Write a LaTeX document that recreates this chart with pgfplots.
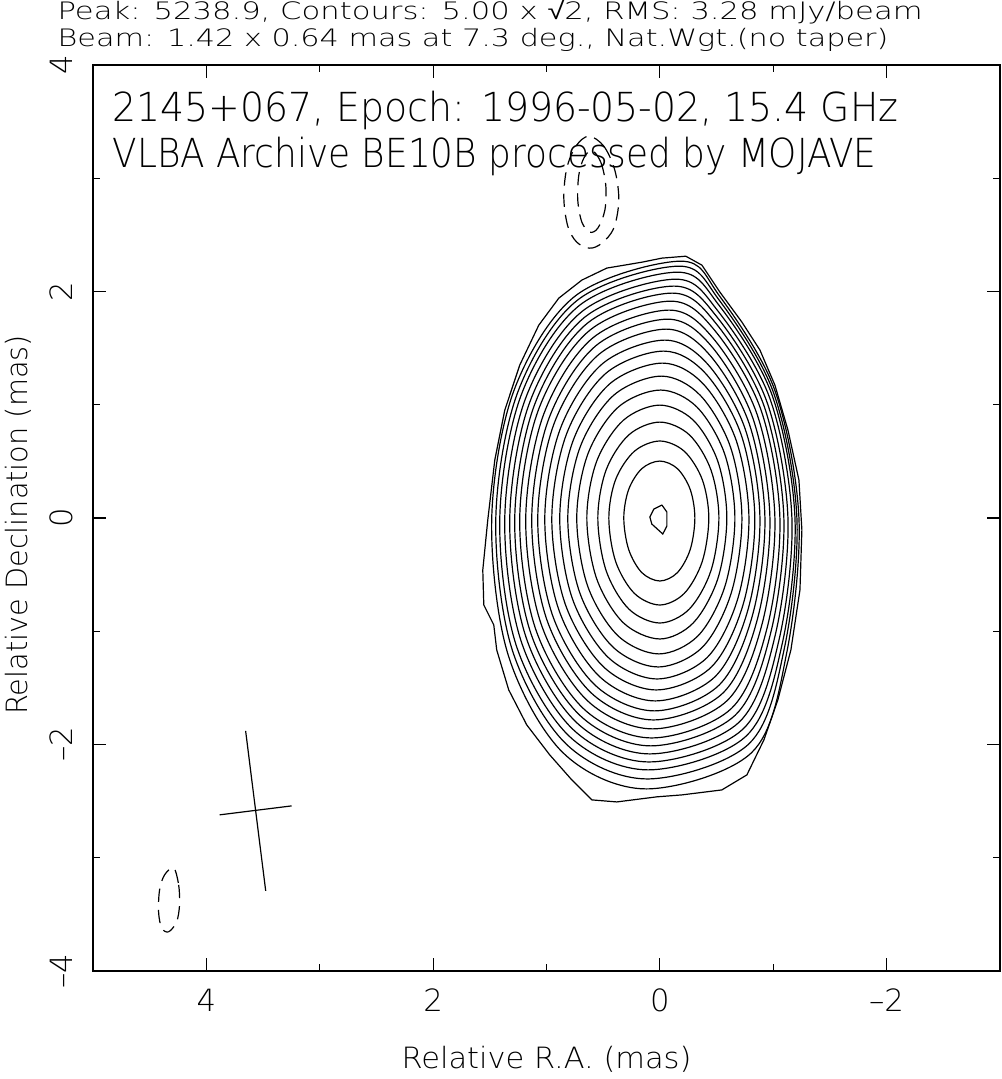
\documentclass[border=0pt]{standalone}
\usepackage{pgfplots}
\pgfplotsset{compat=1.18}
\usepackage{fontspec}
\IfFontExistsTF{DejaVu Sans ExtraLight}{\setmainfont{DejaVu Sans ExtraLight}}{\setmainfont{Liberation Sans}}
\newfontfamily\lib{Liberation Sans}
\newsavebox\tb
\newcommand\fitw[2]{\sbox\tb{#2}\pgfmathsetmacro\fac{#1/\wd\tb}\scalebox{\fac}[1]{\usebox\tb}}
\pgfplotsset{
  ring/.style={smooth cycle, tension=0.55, line width=0.45pt, black},
  neg/.style={smooth cycle, tension=0.55, line width=0.45pt, black, dash pattern=on 5pt off 3pt},
}
\begin{document}
\begin{tikzpicture}
\begin{axis}[name=ax, scale only axis, width=340.1pt, height=339.75pt,
  x dir=reverse, xmin=-3, xmax=5, ymin=-4, ymax=4,
  xtick={-2,0,2,4}, xticklabels={–2,0,2,4},
  ytick={-4,-2,0,2,4}, yticklabels={–4,–2,0,2,4},
  minor xtick={-1,1,3}, minor ytick={-3,-1,1,3},
  tick align=inside, tick pos=both,
  major tick length=5pt, minor tick length=2.6pt,
  tick style={black, line width=0.45pt},
  axis line style={line width=0.5pt},
  ticklabel style={font=\fontsize{11.5}{12}\selectfont},
  xticklabel shift=3.3pt,
  yticklabel style={rotate=90, anchor=south},
  yticklabel shift=4.1pt,
  clip=false,
]
% innermost contour
\addplot[sharp plot, line width=0.45pt, black] coordinates {(-0.018,0.115)(-0.062,0.053)(-0.062,-0.071)(-0.026,-0.141)(0.071,-0.053)(0.088,0.009)(0.053,0.079)(-0.018,0.115)};
% rings 1..19
\addplot[ring] coordinates {(.318,0)(.275,.252)(.159,.436)(0,.503)(-.155,.436)(-.268,.252)(-.309,0)(-.268,-.278)(-.155,-.482)(0,-.556)(.159,-.482)(.275,-.278)};
\addplot[ring] coordinates {(.450,0)(.390,.340)(.225,.589)(0,.680)(-.216,.589)(-.374,.340)(-.432,0)(-.374,-.384)(-.216,-.665)(0,-.768)(.225,-.665)(.390,-.384)};
\addplot[ring] coordinates {(.547,0)(.474,.424)(.274,.734)(0,.847)(-.261,.734)(-.451,.424)(-.521,0)(-.451,-.464)(-.261,-.803)(0,-.927)(.274,-.803)(.474,-.464)};
\addplot[ring] coordinates {(.644,0)(.558,.499)(.322,.863)(0,.997)(-.296,.863)(-.512,.499)(-.591,0)(-.512,-.534)(-.296,-.925)(0,-1.068)(.322,-.925)(.558,-.534)};
\addplot[ring] coordinates {(.733,0)(.635,.565)(.367,.979)(-.007,1.130)(-.328,.979)(-.572,.565)(-.662,0)(-.575,-.600)(-.338,-1.039)(.008,-1.200)(.370,-1.039)(.637,-.600)};
\addplot[ring] coordinates {(.812,0)(.703,.627)(.406,1.085)(-.014,1.253)(-.355,1.085)(-.623,.627)(-.724,0)(-.631,-.658)(-.377,-1.139)(.016,-1.315)(.414,-1.139)(.707,-.658)};
\addplot[ring] coordinates {(.883,0)(.765,.684)(.442,1.185)(-.024,1.368)(-.382,1.185)(-.674,.684)(-.786,0)(-.688,-.711)(-.418,-1.231)(.024,-1.421)(.455,-1.231)(.772,-.711)};
\addplot[ring] coordinates {(.953,0)(.825,.737)(.477,1.277)(-.034,1.474)(-.403,1.277)(-.717,.737)(-.838,0)(-.736,-.759)(-.455,-1.315)(.032,-1.518)(.496,-1.315)(.835,-.759)};
\addplot[ring] coordinates {(1.015,0)(.879,.786)(.508,1.361)(-.044,1.571)(-.420,1.361)(-.753,.786)(-.883,0)(-.778,-.808)(-.489,-1.399)(.040,-1.615)(.533,-1.399)(.892,-.808)};
\addplot[ring] coordinates {(1.077,0)(.933,.834)(.539,1.444)(-.056,1.668)(-.436,1.444)(-.788,.834)(-.927,0)(-.819,-.852)(-.523,-1.475)(.048,-1.703)(.572,-1.475)(.949,-.852)};
\addplot[ring] coordinates {(1.130,0)(.979,.878)(.565,1.521)(-.068,1.756)(-.452,1.521)(-.822,.878)(-.971,0)(-.861,-.892)(-.558,-1.544)(.056,-1.783)(.606,-1.544)(.999,-.892)};
\addplot[ring] coordinates {(1.183,0)(1.024,.918)(.592,1.590)(-.081,1.836)(-.468,1.590)(-.857,.918)(-1.015,0)(-.903,-.931)(-.594,-1.612)(.064,-1.862)(.640,-1.612)(1.049,-.931)};
\addplot[ring] coordinates {(1.236,0)(1.070,.958)(.618,1.658)(-.095,1.915)(-.483,1.658)(-.891,.958)(-1.059,0)(-.946,-.971)(-.631,-1.682)(.072,-1.942)(.675,-1.682)(1.099,-.971)};
\addplot[ring] coordinates {(1.280,0)(1.108,.993)(.640,1.720)(-.109,1.986)(-.494,1.720)(-.918,.993)(-1.094,0)(-.980,-1.006)(-.664,-1.742)(.080,-2.012)(.706,-1.742)(1.142,-1.006)};
\addplot[ring] coordinates {(1.324,0)(1.147,1.024)(.662,1.774)(-.124,2.048)(-.505,1.774)(-.945,1.024)(-1.130,0)(-1.016,-1.042)(-.698,-1.804)(.088,-2.083)(.737,-1.804)(1.184,-1.042)};
\addplot[ring] coordinates {(1.368,0)(1.185,1.055)(.684,1.826)(-.140,2.109)(-.514,1.826)(-.971,1.055)(-1.165,0)(-1.051,-1.077)(-.732,-1.865)(.096,-2.154)(.768,-1.865)(1.227,-1.077)};
\addplot[ring] coordinates {(1.412,0)(1.223,1.086)(.706,1.880)(-.155,2.171)(-.521,1.880)(-.990,1.086)(-1.192,0)(-1.079,-1.112)(-.761,-1.926)(.104,-2.224)(.800,-1.926)(1.271,-1.112)};
\addplot[ring] coordinates {(1.447,0)(1.253,1.112)(.724,1.926)(-.169,2.224)(-.522,1.926)(-1.001,1.112)(-1.209,0)(-1.098,-1.152)(-.785,-1.995)(.112,-2.304)(.827,-1.995)(1.306,-1.152)};
\addplot[ring] coordinates {(1.483,0)(1.284,1.134)(.742,1.964)(-.184,2.268)(-.524,1.964)(-1.012,1.134)(-1.227,0)(-1.118,-1.196)(-.810,-2.071)(.120,-2.392)(.856,-2.071)(1.342,-1.196)};
% outermost contour
\addplot[sharp plot, line width=0.45pt, black] coordinates {(0.159,2.259)(-0.018,2.295)(-0.229,2.312)(-0.371,2.233)(-0.530,1.995)(-0.724,1.730)(-0.883,1.483)(-1.015,1.174)(-1.130,0.777)(-1.227,0.335)(-1.253,-0.106)(-1.236,-0.635)(-1.156,-1.165)(-1.041,-1.606)(-0.918,-1.959)(-0.768,-2.268)(-0.547,-2.401)(-0.194,-2.445)(0.026,-2.462)(0.380,-2.507)(0.600,-2.489)(0.777,-2.312)(0.971,-2.092)(1.174,-1.827)(1.333,-1.518)(1.439,-1.165)(1.465,-0.944)(1.553,-0.768)(1.562,-0.459)(1.518,-0.018)(1.456,0.512)(1.368,0.953)(1.236,1.350)(1.068,1.703)(0.891,1.942)(0.688,2.101)(0.468,2.207)(0.159,2.259)};
% negative contours
\addplot[neg] coordinates {(.627,3.372)(.494,3.283)(.397,3.071)(.362,2.807)(.406,2.560)(.512,2.427)(.618,2.383)(.733,2.436)(.812,2.577)(.847,2.824)(.821,3.089)(.741,3.283)};
\addplot[neg] coordinates {(.600,3.248)(.521,3.142)(.477,2.939)(.485,2.718)(.547,2.560)(.618,2.524)(.688,2.613)(.724,2.807)(.715,3.027)(.671,3.177)};
\addplot[neg] coordinates {(4.289,-3.089)(4.245,-3.239)(4.237,-3.416)(4.263,-3.566)(4.334,-3.654)(4.395,-3.619)(4.422,-3.478)(4.413,-3.283)(4.369,-3.151)};
% beam cross
\addplot[line width=0.45pt, black] coordinates {(3.654,-1.880)(3.477,-3.292)};
\addplot[line width=0.45pt, black] coordinates {(3.883,-2.621)(3.248,-2.542)};
\end{axis}
% titles and labels
\node[anchor=base west, inner sep=0] at ([xshift=-13.5pt,yshift=17.0pt]ax.north west) {\fontsize{9}{10}\selectfont\fitw{324.4pt}{Peak: 5238.9, Contours: 5.00 x {\lib √}2, RMS: 3.28 mJy/beam}};
\node[anchor=base west, inner sep=0] at ([xshift=-13.5pt,yshift=6.8pt]ax.north west) {\fontsize{9}{10}\selectfont\fitw{311.6pt}{Beam: 1.42 x 0.64 mas at 7.3 deg., Nat.Wgt.(no taper)}};
\node[anchor=base west, inner sep=0] at ([xshift=7.1pt,yshift=-21pt]ax.north west) {\fontsize{15}{18}\selectfont\fitw{294.75pt}{2145+067, Epoch: 1996-05-02, 15.4 GHz}};
\node[anchor=base west, inner sep=0] at ([xshift=7.1pt,yshift=-38.6pt]ax.north west) {\fontsize{15}{18}\selectfont\fitw{286.5pt}{VLBA Archive BE10B processed by MOJAVE}};
\node[anchor=base, inner sep=0] at ([yshift=-36.4pt]ax.south) {\fontsize{11}{13}\selectfont\fitw{108.75pt}{Relative R.A. (mas)}};
\node[rotate=90, anchor=base, inner sep=0] at ([xshift=-24.75pt,yshift=-2.6pt]ax.west) {\fontsize{11}{13}\selectfont\fitw{142.5pt}{Relative Declination (mas)}};
\pgfresetboundingbox
\path ([xshift=-34.9pt,yshift=-40.5pt]ax.south west) rectangle ([xshift=0.4pt,yshift=24.4pt]ax.north east);
\end{tikzpicture}
\end{document}
